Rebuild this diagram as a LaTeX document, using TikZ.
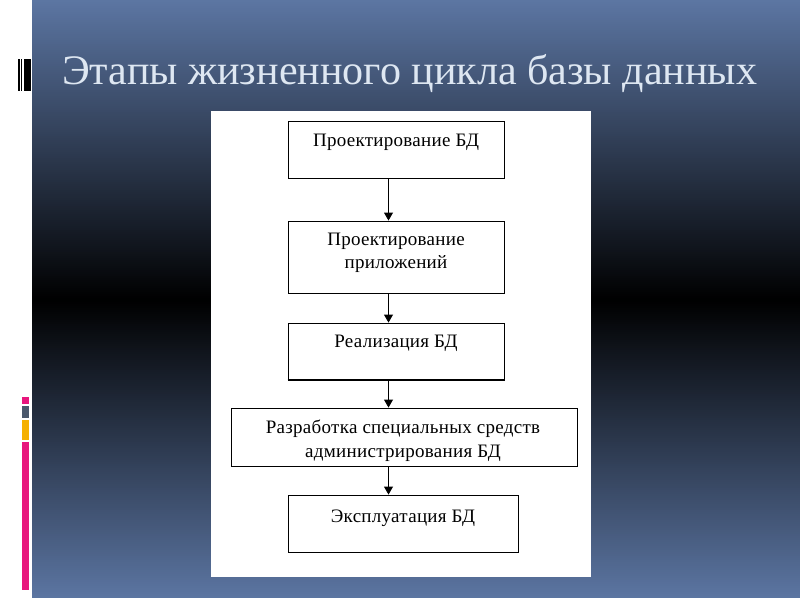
\documentclass[tikz,border=0pt]{standalone}
\usepackage{fontspec}
\setmainfont{Liberation Serif}
\newfontfamily\bodyfont[LetterSpace=1.5]{Liberation Serif}
\usetikzlibrary{arrows.meta}
\definecolor{bgtop}{RGB}{92,118,163}
\definecolor{titlec}{RGB}{222,231,242}
\definecolor{pinkc}{RGB}{232,22,125}
\definecolor{grayc}{RGB}{74,88,108}
\definecolor{orangec}{RGB}{245,176,0}
\begin{document}
\begin{tikzpicture}[x=1pt,y=-1pt,
  box/.style={draw=black, line width=0.9pt, fill=white, inner sep=0pt},
  txt/.style={font=\bodyfont\fontsize{19}{23}\selectfont, anchor=base, inner sep=0pt, text=black},
  arr/.style={-{Triangle[length=8pt,width=9pt]}, line width=0.9pt}]
\useasboundingbox (0,0) rectangle (800,600);
\fill[white] (0,0) rectangle (800,600);
% background panel: vertical gradient blue - black - blue
\foreach \i in {0,...,298} {
  \pgfmathsetmacro{\yy}{2*\i}
  \pgfmathsetmacro{\tt}{min(100,abs(\yy+1-300)/300*100)}
  \fill[bgtop!\tt!black] (32,\yy) rectangle (800,\yy+2.3);
}
% barcode mark
\fill[black] (18,59) rectangle (31,91);
\fill[white] (19.8,59) rectangle (21,91);
\fill[white] (22.4,59) rectangle (23.6,91);
% colour bars
\fill[pinkc] (22,397) rectangle (29,404);
\fill[grayc] (22,406) rectangle (29,418);
\fill[orangec] (22,420) rectangle (29,440);
\fill[pinkc] (22,442) rectangle (29,590);
% title
\node[anchor=base west, inner sep=0pt, text=titlec] (title) at (62,84)
  {\resizebox{695pt}{\height}{\fontsize{42}{42}\selectfont Этапы жизненного цикла базы данных}};
% white sheet
\fill[white] (211,111) rectangle (591,577);
% boxes
\node[box, minimum width=216pt, minimum height=57pt] (b1) at (396,149.5) {};
\node[box, minimum width=216pt, minimum height=72pt] (b2) at (396,257) {};
\node[box, minimum width=216pt, minimum height=57pt] (b3) at (396,351.5) {};
\node[box, minimum width=346pt, minimum height=58pt] (b4) at (404,437) {};
\node[box, minimum width=230pt, minimum height=57pt] (b5) at (403,523.5) {};
\draw[line width=1.8pt] ([yshift=0.5pt]b3.south west) -- ([yshift=0.5pt]b3.south east);
% texts
\node[txt] (t1) at (396,146) {Проектирование БД};
\node[txt] (t2a) at (396,245) {Проектирование};
\node[txt] (t2b) at (396,268) {приложений};
\node[txt] (t3) at (396,347) {Реализация БД};
\node[txt] (t4a) at (403,433) {Разработка специальных средств};
\node[txt] (t4b) at (403,457) {администрирования БД};
\node[txt] (t5) at (403,522) {Эксплуатация БД};
% arrows
\coordinate (ax) at (388.5,0);
\draw[arr] (b1.south -| ax) -- (b2.north -| ax);
\draw[arr] (b2.south -| ax) -- (b3.north -| ax);
\draw[arr] (b3.south -| ax) -- (b4.north -| ax);
\draw[arr] (b4.south -| ax) -- (b5.north -| ax);
\end{tikzpicture}
\end{document}
